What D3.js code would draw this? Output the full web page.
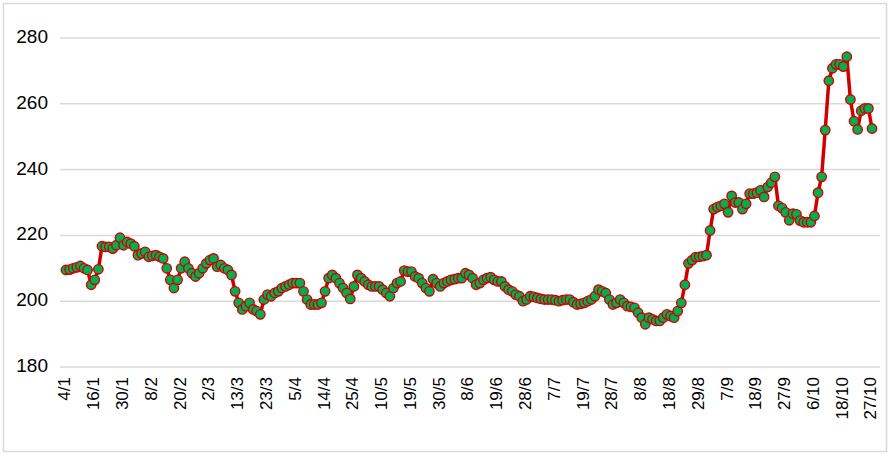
<!DOCTYPE html>
<html lang="en">
<head>
  <meta charset="utf-8">
  <title>Chart</title>
  <script src="https://d3js.org/d3.v7.min.js"></script>
  <style>
    body { margin: 0; background: #fff; }
    text { font-family: "Liberation Sans", Arial, sans-serif; fill: #000; }
  </style>
</head>
<body>
<svg id="chart" width="891" height="456"></svg>
<script>
  // tick labels, one every 8 points
  const dateLabels = ['4/1','16/1','30/1','8/2','20/2','2/3','13/3','23/3','5/4','14/4','25/4','10/5','19/5','30/5',
    '8/6','19/6','28/6','7/7','19/7','28/7','8/8','18/8','29/8','7/9','18/9','27/9','6/10','18/10','27/10']
  const yTicks = [180, 200, 220, 240, 260, 280]
  // daily values
  const values = [
    209.5,209.6,210,210.3,210.7,210,209.5,205,206.5,209.7,
    216.7,216.5,216.5,216,217,219.3,217,218,217.5,216.7,
    214,214.5,215,213.5,213.8,214,213.5,213,210,206.5,
    204,206.5,210,212,210,208.5,207.5,208.5,210,211.5,
    212.5,213,210.5,211,210,209.5,208,203,199.5,197.5,
    198.5,199.5,197.5,197,196,200.5,202,201.5,202.5,203,
    204,204.5,205,205.5,205.5,205.5,203,200.5,199,199,
    199,199.5,203,207,208,207,205.5,204,202.5,200.7,
    204.5,208,207,206,205,204.5,204.5,204.5,203.5,202.5,
    201.5,204,205.5,206,209.3,209,209,207.5,207,205.5,
    204,203,206.7,205.5,204.5,205.5,206,206.5,206.7,207,
    207,208.5,208,207,205,205.5,206.5,207,207.3,206.5,
    206,206,204.5,203.5,203,202,201.5,200,200.5,201.5,
    201.3,201,200.7,200.5,200.5,200.5,200.3,200,200.3,200.5,
    200.5,199.7,199,199.2,199.5,200,200.5,201.5,203.5,203,
    202.5,200.5,199,199.5,200.5,199.5,198.5,198.3,198,196.5,
    195,193,195,194.5,194,194,195,196,195.5,195,
    197,199.5,205,211.5,212.5,213.4,213.5,213.7,214,221.5,
    228,228.6,229,229.6,227,232,230,230,228,229.6,
    232.7,232.7,233,233.7,231.7,234.7,236,237.8,229,228.3,
    227,224.6,226.6,226.4,224.5,224,224,224,225.9,233,
    237.8,252,267,270.8,272,272,271.3,274.3,261.3,254.7,
    252.2,257.9,258.6,258.6,252.5
  ]

  const svg = d3.select("#chart")

  // outer frame
  svg.append("rect")
    .attr("x", 3.5).attr("y", 3.5)
    .attr("width", 883).attr("height", 448)
    .attr("fill", "none")
    .attr("stroke", "#d9d9d9")
    .attr("stroke-width", 1.5)

  const x = d3.scaleLinear().domain([0, values.length - 1]).range([66, 872])
  const y = d3.scaleLinear().domain([180, 280]).range([367, 38])

  // gridlines + y labels
  svg.append("g").selectAll("line")
    .data(yTicks)
    .join("line")
      .attr("x1", 60).attr("x2", 880)
      .attr("y1", d => y(d)).attr("y2", d => y(d))
      .attr("stroke", "#d9d9d9")
      .attr("stroke-width", 1.5)

  svg.append("g").selectAll("text")
    .data(yTicks)
    .join("text")
      .attr("x", 48)
      .attr("y", d => y(d))
      .attr("text-anchor", "end")
      .attr("dominant-baseline", "middle")
      .style("font-size", "19px")
      .text(d => d)

  // x labels, rotated
  svg.append("g").selectAll("text")
    .data(dateLabels)
    .join("text")
      .attr("transform", (d, i) => `translate(${x(i * 8)}, 377) rotate(-90)`)
      .attr("text-anchor", "end")
      .attr("dominant-baseline", "middle")
      .style("font-size", "17px")
      .text(d => d)

  // line
  svg.append("path")
    .datum(values)
    .attr("fill", "none")
    .attr("stroke", "#d00000")
    .attr("stroke-width", 3.5)
    .attr("stroke-linejoin", "round")
    .attr("d", d3.line().x((d, i) => x(i)).y(d => y(d)))

  // markers
  svg.append("g").selectAll("circle")
    .data(values)
    .join("circle")
      .attr("cx", (d, i) => x(i))
      .attr("cy", d => y(d))
      .attr("r", 4.7)
      .attr("fill", "#00b050")
      .attr("stroke", "#d00000")
      .attr("stroke-width", 1.4)
</script>
</body>
</html>
